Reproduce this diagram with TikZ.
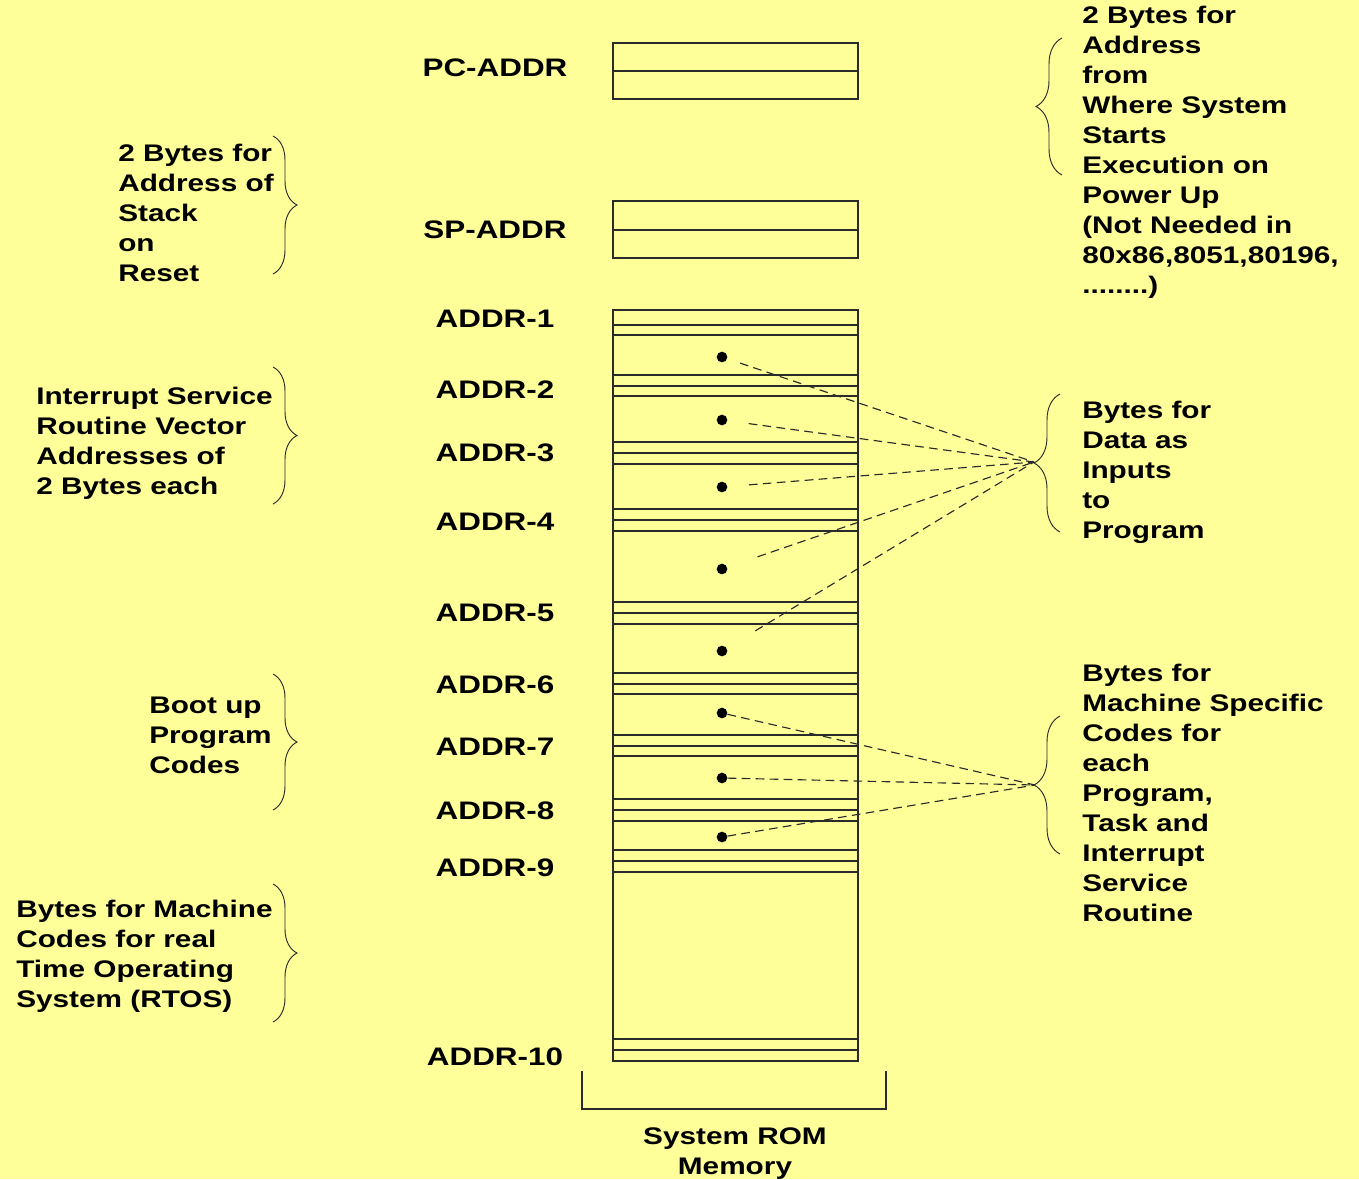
\documentclass[tikz,border=0pt]{standalone}
\usepackage{fontspec}
\newfontfamily\dfont{Liberation Sans}[FakeStretch=1.24]
\usetikzlibrary{decorations.pathreplacing}
\definecolor{bgyellow}{HTML}{FFFF99}
\definecolor{ink}{HTML}{2A2A2A}
\begin{document}
\begin{tikzpicture}[x=0.75pt,y=-0.75pt,
  txt/.style={inner sep=0pt, align=left, anchor=base west, text=black,
    font=\dfont\bfseries\fontsize{18pt}{22.5pt}\selectfont},
  addr/.style={inner sep=0pt, align=center, anchor=base, text=black,
    font=\dfont\bfseries\fontsize{19pt}{22.5pt}\selectfont},
  cell/.style={draw=ink, line width=0.8pt},
  dot/.style={circle, fill=black, inner sep=0pt, minimum size=8pt},
  lbrace/.style={draw=ink, line width=0.7pt, decorate, decoration={brace, amplitude=18pt}},
  rbrace/.style={draw=ink, line width=0.7pt, decorate, decoration={brace, amplitude=19.5pt}},
  link/.style={draw=ink, line width=0.85pt, dash pattern=on 6.5pt off 4pt}
]
% background / bounding box
\fill[bgyellow] (0,0) rectangle (1359,1179);
\useasboundingbox (0,0) rectangle (1359,1179);

% PC and SP boxes
\draw[cell] (613,43) rectangle (858,99);
\draw[cell] (613,71) -- (858,71);
\draw[cell] (613,201) rectangle (858,258);
\draw[cell] (613,230) -- (858,230);

% ROM column
\draw[cell] (613,310) rectangle (858,1061);
\foreach \yy in {325,335, 375,386,396, 442,453,464, 509,520,531, 602,613,624,
                 673,684,694, 735,746,756, 799,810,821, 850,861,872, 1039,1050}
  \draw[cell] (613,\yy) -- (858,\yy);

% bracket under column
\draw[cell] (582,1071) -- (582,1109) -- (886,1109) -- (886,1071);
\node[txt, align=center, anchor=base] (rom) at (735,1174) {System ROM\\Memory};

% address labels
\node[addr] (pc) at (495,76) {PC-ADDR};
\node[addr] (sp) at (495,238) {SP-ADDR};
\node[addr] (a1) at (495,327) {ADDR-1};
\node[addr] (a2) at (495,398) {ADDR-2};
\node[addr] (a3) at (495,461) {ADDR-3};
\node[addr] (a4) at (495,530) {ADDR-4};
\node[addr] (a5) at (495,621) {ADDR-5};
\node[addr] (a6) at (495,693) {ADDR-6};
\node[addr] (a7) at (495,755) {ADDR-7};
\node[addr] (a8) at (495,819) {ADDR-8};
\node[addr] (a9) at (495,876) {ADDR-9};
\node[addr] (a10) at (495,1065) {ADDR-10};

% left braces and texts (anchor = baseline of last line)
\draw[lbrace] (273,136) -- (273,274);
\node[txt] (lt1) at (118,281) {2 Bytes for\\Address of\\Stack\\on\\Reset};
\draw[lbrace] (273,367) -- (273,504);
\node[txt] (lt2) at (36,494) {Interrupt Service\\Routine Vector\\Addresses of\\2 Bytes each};
\draw[lbrace] (273,674) -- (273,810);
\node[txt] (lt3) at (149,773) {Boot up\\Program\\Codes};
\draw[lbrace] (273,884) -- (273,1022);
\node[txt] (lt4) at (16,1007) {Bytes for Machine\\Codes for real\\Time Operating\\System (RTOS)};

% right braces and texts
\draw[rbrace] (1062,175) -- (1062,38);
\node[txt] (rt1) at (1082,293) {2 Bytes for\\Address\\from\\Where System\\Starts\\Execution on\\Power Up\\(Not Needed in\\80x86,8051,80196,\\........)};
\draw[rbrace] (1060,532) -- (1060,394);
\coordinate (tipA) at (1034,462);
\node[txt] (rt2) at (1082,538) {Bytes for\\Data as\\Inputs\\to\\Program};
\draw[rbrace] (1060,854) -- (1060,716);
\coordinate (tipB) at (1035,785);
\node[txt] (rt3) at (1082,921) {Bytes for\\Machine Specific\\Codes for\\each\\Program,\\Task and\\Interrupt\\Service\\Routine};

% data dots
\node[dot] (d1) at (722,357) {};
\node[dot] (d2) at (722,420) {};
\node[dot] (d3) at (722,487) {};
\node[dot] (d4) at (722,569) {};
\node[dot] (d5) at (722,651) {};
% code dots
\node[dot] (d6) at (722,713) {};
\node[dot] (d7) at (722,778) {};
\node[dot] (d8) at (722,837) {};

% dashed links
\draw[link, shorten <=10pt] (d1) -- (tipA);
\draw[link, shorten <=16pt] (d2) -- (tipA);
\draw[link, shorten <=16pt] (d3) -- (tipA);
\draw[link, shorten <=24pt] (d4) -- (tipA);
\draw[link, shorten <=25pt] (d5) -- (tipA);
\draw[link] (d6) -- (tipB);
\draw[link] (d7) -- (tipB);
\draw[link] (d8) -- (tipB);
\end{tikzpicture}
\end{document}
